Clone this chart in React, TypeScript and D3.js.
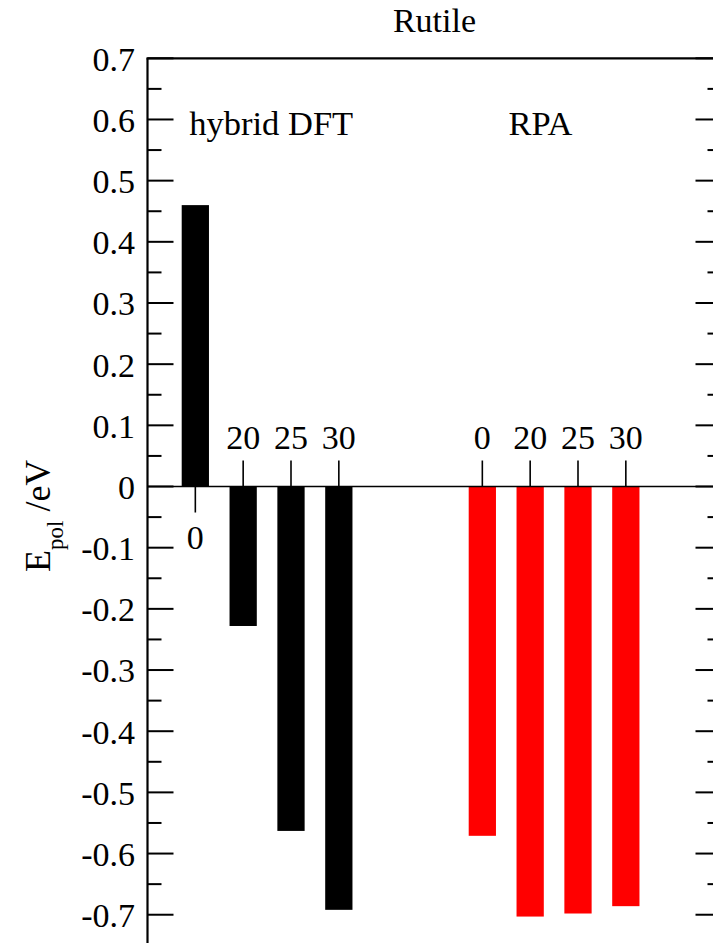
import React from "react";
import * as d3 from "d3";

const groupLabels = ["hybrid DFT", "RPA"];
const categories = ["0", "20", "25", "30"];
const hybridValues = [0.46, -0.228, -0.563, -0.692];
const rpaValues = [-0.571, -0.703, -0.698, -0.686];
const hybridPositions = [1, 2, 3, 4];
const rpaPositions = [7, 8, 9, 10];
const yMajorTicks = [0.7, 0.6, 0.5, 0.4, 0.3, 0.2, 0.1, 0, -0.1, -0.2, -0.3, -0.4, -0.5, -0.6, -0.7];
const title = "Rutile";

const W = 713;
const H = 943;
const FONT = '"Liberation Serif", "Times New Roman", "DejaVu Serif", serif';

export default function App() {
  const x = d3.scaleLinear().domain([0, 12]).range([147.5, 721.5]);
  const y = d3.scaleLinear().domain([-0.8, 0.7]).range([975.9, 58.3]);
  const barW = x(0.57) - x(0);
  const left = x(0);
  const right = x(12);
  const top = y(0.7);
  const bottom = y(-0.8);

  const minorTicks = d3.range(-0.75, 0.7, 0.1).map((v) => Math.round(v * 100) / 100);
  const fmt = (v: number) => (Math.abs(v) < 1e-9 ? "0" : v.toFixed(1));

  const series = [
    { vals: hybridValues, pos: hybridPositions, color: "#000000" },
    { vals: rpaValues, pos: rpaPositions, color: "#ff0000" },
  ];

  const ts = { fontFamily: FONT };

  return (
    <svg
      width={W}
      height={H}
      style={{ position: "absolute", left: 0, top: 0, display: "block", background: "#fff", fontFamily: FONT }}
    >
      <rect x={0} y={0} width={W} height={H} fill="#fff" />
      {series.map((s, si) =>
        s.vals.map((v, i) => (
          <rect
            key={`b${si}-${i}`}
            x={x(s.pos[i]) - barW / 2}
            y={Math.min(y(v), y(0))}
            width={barW}
            height={Math.abs(y(v) - y(0))}
            fill={s.color}
          />
        ))
      )}
      <line x1={left} x2={right} y1={y(0)} y2={y(0)} stroke="#000" strokeWidth={1.6} />
      {series.map((s, si) =>
        s.vals.map((v, i) => {
          const cx = x(s.pos[i]);
          const up = v < 0;
          const y0 = y(0);
          const y1 = up ? y0 - 26 : y0 + 26;
          return (
            <g key={`t${si}-${i}`}>
              <line x1={cx} x2={cx} y1={y0} y2={y1} stroke="#000" strokeWidth={1.6} />
              <text
                x={cx}
                y={up ? y0 - 38 : y0 + 62.5}
                textAnchor="middle"
                fontSize={34}
                fill="#000"
                style={ts}
              >
                {categories[i]}
              </text>
            </g>
          );
        })
      )}
      <line x1={left} x2={left} y1={top} y2={bottom} stroke="#000" strokeWidth={2.2} />
      <line x1={right} x2={right} y1={top} y2={bottom} stroke="#000" strokeWidth={2.2} />
      <line x1={left - 1} x2={right + 1} y1={top} y2={top} stroke="#000" strokeWidth={2.2} />
      <line x1={left - 1} x2={right + 1} y1={bottom} y2={bottom} stroke="#000" strokeWidth={2.2} />
      {yMajorTicks.map((v) => (
        <g key={`ym${v}`}>
          <line x1={left} x2={left + 26} y1={y(v)} y2={y(v)} stroke="#000" strokeWidth={2} />
          <line x1={right} x2={right - 26} y1={y(v)} y2={y(v)} stroke="#000" strokeWidth={2} />
          <text x={135} y={y(v) + 12.4} textAnchor="end" fontSize={34} fill="#000" style={ts}>
            {fmt(v)}
          </text>
        </g>
      ))}
      {minorTicks.map((v) => (
        <g key={`yn${v}`}>
          <line x1={left} x2={left + 14} y1={y(v)} y2={y(v)} stroke="#000" strokeWidth={2} />
          <line x1={right} x2={right - 14} y1={y(v)} y2={y(v)} stroke="#000" strokeWidth={2} />
        </g>
      ))}
      <text x={189.3} y={134.5} fontSize={34.5} fill="#000" style={ts}>
        {groupLabels[0]}
      </text>
      <text x={540.5} y={134.5} fontSize={34.5} textAnchor="middle" fill="#000" style={ts}>
        {groupLabels[1]}
      </text>
      <text x={434.5} y={32.3} fontSize={34} textAnchor="middle" fill="#000" style={ts}>
        {title}
      </text>
      <text transform="translate(50,572) rotate(-90)" fontSize={36} fill="#000" style={ts}>
        E
        <tspan dy={13} fontSize={23}>
          pol
        </tspan>
        <tspan dy={-13}>{"  /eV"}</tspan>
      </text>
    </svg>
  );
}
